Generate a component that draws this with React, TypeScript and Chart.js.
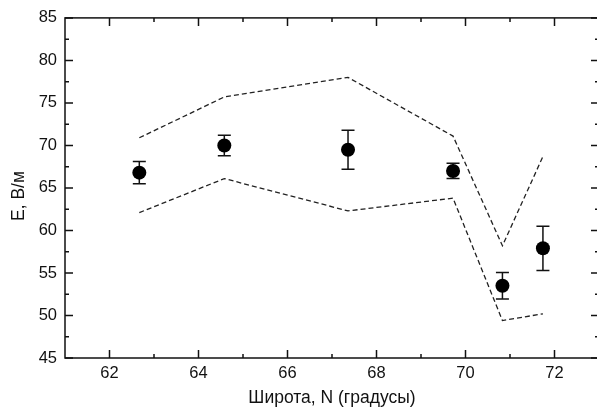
import React, { useEffect, useRef } from "react";
import { Chart, registerables } from "chart.js";

Chart.register(...registerables);

// ---- data ----
const LATITUDE = [62.67, 64.58, 67.36, 69.72, 70.83, 71.74];
const E_MEAN = [66.8, 70.0, 69.5, 67.0, 53.5, 57.9];
const E_ERR = [1.3, 1.2, 2.3, 0.9, 1.55, 2.6];
const E_UPPER = [70.9, 75.7, 78.0, 71.1, 58.2, 68.7];
const E_LOWER = [62.1, 66.1, 62.3, 63.8, 49.4, 50.2];

const X_TICKS = [62, 64, 66, 68, 70, 72];
const X_MINOR = [63, 65, 67, 69, 71];
const Y_TICKS = [45, 50, 55, 60, 65, 70, 75, 80, 85];
const Y_MINOR = [47.5, 52.5, 57.5, 62.5, 67.5, 72.5, 77.5, 82.5];

const X_TITLE = "Широта, N (градусы)";
const Y_TITLE = "E, В/м";

const FONT = "'Liberation Sans', Arial, sans-serif";
const INK = "#111";

const framePlugin = {
  id: "frame",
  beforeDatasetsDraw(chart: any) {
    const ctx = chart.ctx;
    const xs = chart.scales.x;
    const ys = chart.scales.y;
    ctx.save();
    ctx.strokeStyle = INK;
    ctx.lineWidth = 1.5;
    LATITUDE.forEach((lat, i) => {
      const px = xs.getPixelForValue(lat);
      const top = ys.getPixelForValue(E_MEAN[i] + E_ERR[i]);
      const bot = ys.getPixelForValue(E_MEAN[i] - E_ERR[i]);
      const cap = 6.5;
      ctx.beginPath();
      ctx.moveTo(px, top);
      ctx.lineTo(px, bot);
      ctx.moveTo(px - cap, top);
      ctx.lineTo(px + cap, top);
      ctx.moveTo(px - cap, bot);
      ctx.lineTo(px + cap, bot);
      ctx.stroke();
    });
    ctx.restore();
  },
  afterDraw(chart: any) {
    const ctx = chart.ctx;
    const { left, right, top, bottom } = chart.chartArea;
    const xs = chart.scales.x;
    const ys = chart.scales.y;
    ctx.save();
    ctx.strokeStyle = INK;
    ctx.lineWidth = 1.5;
    ctx.strokeRect(left, top, right - left, bottom - top);
    const major = 8;
    const minor = 4;
    ctx.beginPath();
    const xTick = (v: number, len: number) => {
      const p = xs.getPixelForValue(v);
      ctx.moveTo(p, bottom);
      ctx.lineTo(p, bottom - len);
      ctx.moveTo(p, top);
      ctx.lineTo(p, top + len);
    };
    const yTick = (v: number, len: number) => {
      const p = ys.getPixelForValue(v);
      ctx.moveTo(left, p);
      ctx.lineTo(left + len, p);
      ctx.moveTo(right, p);
      ctx.lineTo(right - len, p);
    };
    X_TICKS.forEach((v) => xTick(v, major));
    X_MINOR.forEach((v) => xTick(v, minor));
    Y_TICKS.forEach((v) => yTick(v, major));
    Y_MINOR.forEach((v) => yTick(v, minor));
    ctx.stroke();

    // y-axis title
    ctx.fillStyle = INK;
    ctx.font = `17.5px ${FONT}`;
    ctx.textAlign = "center";
    ctx.textBaseline = "middle";
    ctx.translate(19, 196);
    ctx.rotate(-Math.PI / 2);
    ctx.fillText(Y_TITLE, 0, 0);
    ctx.restore();
  },
};

export default function App() {
  const ref = useRef<HTMLCanvasElement | null>(null);

  useEffect(() => {
    if (!ref.current) return;
    const chart = new Chart(ref.current, {
      type: "scatter",
      data: {
        datasets: [
          {
            label: "E",
            data: LATITUDE.map((x, i) => ({ x, y: E_MEAN[i] })),
            pointRadius: 7,
            pointBackgroundColor: "#000",
            pointBorderColor: "#000",
            pointBorderWidth: 0,
            showLine: false,
          },
          {
            label: "upper",
            type: "line",
            data: LATITUDE.map((x, i) => ({ x, y: E_UPPER[i] })),
            borderColor: "#222",
            borderWidth: 1.3,
            borderDash: [5, 3],
            pointRadius: 0,
            fill: false,
            tension: 0,
          },
          {
            label: "lower",
            type: "line",
            data: LATITUDE.map((x, i) => ({ x, y: E_LOWER[i] })),
            borderColor: "#222",
            borderWidth: 1.3,
            borderDash: [5, 3],
            pointRadius: 0,
            fill: false,
            tension: 0,
          },
        ],
      } as any,
      options: {
        animation: false,
        responsive: false,
        maintainAspectRatio: false,
        layout: { padding: { top: 17, right: 3, left: 0, bottom: 0 } },
        plugins: {
          legend: { display: false },
          tooltip: { enabled: false },
        },
        scales: {
          x: {
            type: "linear",
            min: 61,
            max: 73,
            grid: { display: false, drawTicks: false },
            border: { display: false },
            afterBuildTicks: (s: any) => {
              s.ticks = X_TICKS.map((value) => ({ value }));
            },
            afterFit: (s: any) => {
              s.height = 58;
            },
            ticks: {
              autoSkip: false,
              maxRotation: 0,
              padding: 6,
              color: INK,
              font: { family: FONT, size: 16.5 },
              callback: (v: any) => String(v),
            },
            title: {
              display: true,
              text: X_TITLE,
              color: INK,
              font: { family: FONT, size: 17.5 },
              padding: { top: 0, bottom: 7 },
            },
          },
          y: {
            type: "linear",
            min: 45,
            max: 85,
            grid: { display: false, drawTicks: false },
            border: { display: false },
            afterBuildTicks: (s: any) => {
              s.ticks = Y_TICKS.map((value) => ({ value }));
            },
            afterFit: (s: any) => {
              s.width = 65;
            },
            ticks: {
              autoSkip: false,
              padding: 8,
              color: INK,
              font: { family: FONT, size: 16.5 },
              callback: (v: any) => String(v),
            },
          },
        },
      } as any,
      plugins: [framePlugin],
    });
    return () => chart.destroy();
  }, []);

  return (
    <div
      style={{
        position: "fixed",
        left: 0,
        top: 0,
        width: 597,
        height: 416,
        overflow: "hidden",
        background: "#fff",
      }}
    >
      <canvas
        ref={ref}
        width={606}
        height={416}
        style={{ display: "block", width: 606, height: 416 }}
      />
    </div>
  );
}
